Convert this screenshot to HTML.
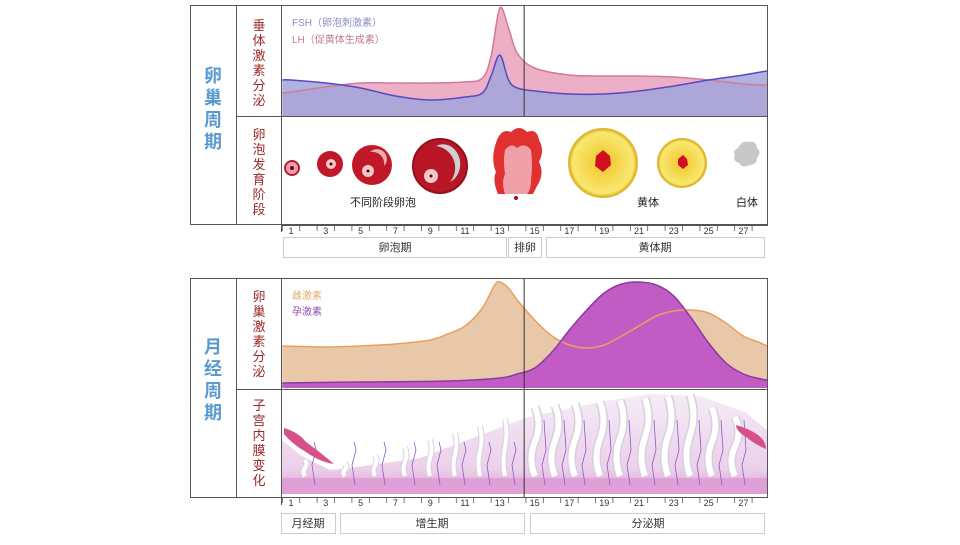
<!DOCTYPE html>
<html><head><meta charset="utf-8">
<style>
html,body{margin:0;padding:0;background:#fff;}
body{width:960px;height:540px;overflow:hidden;font-family:"Liberation Sans","Noto Sans CJK SC",sans-serif;}
svg text{font-family:"Liberation Sans","Noto Sans CJK SC",sans-serif;}
</style></head><body>
<svg id="c" width="960" height="540" viewBox="0 0 960 540" xmlns="http://www.w3.org/2000/svg">
<defs>
<linearGradient id="endo" x1="0" y1="0" x2="0" y2="1">
<stop offset="0" stop-color="#f4ecf6"/><stop offset="0.75" stop-color="#ecd0ea"/><stop offset="1" stop-color="#dc9ad4"/>
</linearGradient>
<radialGradient id="yel" cx="0.5" cy="0.5" r="0.5">
<stop offset="0.3" stop-color="#f5d040"/><stop offset="0.9" stop-color="#f8e870"/><stop offset="1" stop-color="#e0b020"/>
</radialGradient>
</defs>
<g id="charts"></g>
<g fill="none" stroke="#555" stroke-width="1">
<rect x="190.5" y="5.5" width="577" height="219"/>
<line x1="236.5" y1="5" x2="236.5" y2="225"/>
<line x1="281.5" y1="5" x2="281.5" y2="232"/>
<line x1="236" y1="116.5" x2="768" y2="116.5"/>
</g>
<g fill="none" stroke="#555" stroke-width="1">
<rect x="190.5" y="278.5" width="577" height="219"/>
<line x1="236.5" y1="278" x2="236.5" y2="498"/>
<line x1="281.5" y1="278" x2="281.5" y2="505"/>
<line x1="236" y1="389.5" x2="768" y2="389.5"/>
</g>
<text fill="#5a9ad0" font-size="18" font-weight="bold" text-anchor="middle">
<tspan x="213" y="82">卵</tspan><tspan x="213" y="104">巢</tspan><tspan x="213" y="126">周</tspan><tspan x="213" y="148">期</tspan></text>
<text fill="#5a9ad0" font-size="18" font-weight="bold" text-anchor="middle">
<tspan x="213" y="353">月</tspan><tspan x="213" y="375">经</tspan><tspan x="213" y="397">周</tspan><tspan x="213" y="419">期</tspan></text>
<text fill="#9a2a2a" font-size="13" text-anchor="middle">
<tspan x="259" y="30">垂</tspan><tspan x="259" y="45">体</tspan><tspan x="259" y="60">激</tspan><tspan x="259" y="75">素</tspan><tspan x="259" y="90">分</tspan><tspan x="259" y="105">泌</tspan></text>
<text fill="#9a2a2a" font-size="13" text-anchor="middle">
<tspan x="259" y="139">卵</tspan><tspan x="259" y="154">泡</tspan><tspan x="259" y="169">发</tspan><tspan x="259" y="184">育</tspan><tspan x="259" y="199">阶</tspan><tspan x="259" y="214">段</tspan></text>
<text fill="#9a2a2a" font-size="13" text-anchor="middle">
<tspan x="259" y="301">卵</tspan><tspan x="259" y="316">巢</tspan><tspan x="259" y="331">激</tspan><tspan x="259" y="346">素</tspan><tspan x="259" y="361">分</tspan><tspan x="259" y="376">泌</tspan></text>
<text fill="#9a2a2a" font-size="13" text-anchor="middle">
<tspan x="259" y="410">子</tspan><tspan x="259" y="425">宫</tspan><tspan x="259" y="440">内</tspan><tspan x="259" y="455">膜</tspan><tspan x="259" y="470">变</tspan><tspan x="259" y="485">化</tspan></text>
<text x="292" y="26" font-size="10" fill="#8a8ac8">FSH（卵泡刺激素）</text>
<text x="292" y="43" font-size="10" fill="#c07890">LH（促黄体生成素）</text>
<text x="292" y="299" font-size="10" fill="#e0b070">雌激素</text>
<text x="292" y="315" font-size="10" fill="#9050b0">孕激素</text>
<g>
<circle cx="292" cy="168" r="7" fill="#e8a0b0" stroke="#b02030" stroke-width="2"/><circle cx="292" cy="168" r="2" fill="#700"/>
<circle cx="330" cy="164" r="13" fill="#c01828"/><circle cx="331" cy="164" r="5" fill="#f5c8c8"/><circle cx="331" cy="164" r="1.5" fill="#600"/>
<circle cx="372" cy="165" r="20" fill="#c01828"/><path d="M370 152 a12 12 0 0 1 14 14 a8 8 0 0 0 -14 -14z" fill="#eab0b0"/><circle cx="368" cy="171" r="6" fill="#f5c8c8"/><circle cx="368" cy="171" r="1.5" fill="#600"/>
<circle cx="440" cy="166" r="27" fill="#b81525" stroke="#901020" stroke-width="2"/><path d="M436 146 a22 22 0 0 1 14 36 a14 16 0 0 0 -14 -36z" fill="#cfcfcf"/><circle cx="431" cy="176" r="7" fill="#f5c8c8"/><circle cx="431" cy="176" r="1.5" fill="#600"/>
<path d="M497 140 q5 -12 14 -8 q8 -8 16 0 q10 -4 12 8 q6 10 0 22 q6 12 -2 24 l-4 8 l-35 0 q-6 -14 -2 -22 q-6 -14 1 -32z" fill="#e03030"/>
<path d="M505 150 q6 -8 12 -2 q8 -6 14 2 q2 14 0 30 q0 10 -4 14 l-22 0 q-4 -12 0 -20 q-2 -14 0 -24z" fill="#f0a0a8"/>
<circle cx="516" cy="198" r="2" fill="#a01030"/>
<circle cx="603" cy="163" r="34" fill="url(#yel)" stroke="#e0b830" stroke-width="2"/>
<path d="M596 156 l7 -6 l7 6 l1 9 l-8 7 l-8 -6z" fill="#d01020"/>
<circle cx="682" cy="163" r="24" fill="url(#yel)" stroke="#e0b830" stroke-width="2"/>
<path d="M678 159 l5 -4 l4 4 l1 6 l-5 4 l-5 -4z" fill="#d01020"/>
<path d="M738 148 q4 -8 10 -6 q8 -2 9 6 q5 4 0 10 q0 7 -8 7 q-6 4 -10 -2 q-7 -2 -4 -8 q-3 -4 3 -7z" fill="#c8c8c8"/>
</g>
<text x="350" y="206" font-size="11" fill="#222">不同阶段卵泡</text>
<text x="637" y="206" font-size="11" fill="#222">黄体</text>
<text x="736" y="206" font-size="11" fill="#222">白体</text>
<g font-size="11" fill="#333" text-anchor="middle">
<rect x="283.5" y="237.5" width="223" height="20" fill="#fff" stroke="#ccc"/><text x="395" y="251">卵泡期</text>
<rect x="508.5" y="237.5" width="33" height="20" fill="#fff" stroke="#ccc"/><text x="525" y="251">排卵</text>
<rect x="546.5" y="237.5" width="218" height="20" fill="#fff" stroke="#ccc"/><text x="655" y="251">黄体期</text>
<rect x="281.5" y="513.5" width="54" height="20" fill="#fff" stroke="#ccc"/><text x="308" y="527">月经期</text>
<rect x="340.5" y="513.5" width="184" height="20" fill="#fff" stroke="#ccc"/><text x="432" y="527">增生期</text>
<rect x="530.5" y="513.5" width="234" height="20" fill="#fff" stroke="#ccc"/><text x="648" y="527">分泌期</text>
</g>
</svg>
<script>
const fshDays = [0.5,1,3,5,7,9,11,12,12.5,13,13.5,14,15,17,19,21,23,25,27,28,28.5];
const fshVals = [36,36,33,28,20,16,19,23,40,61,36,28,25,22,22,25,30,36,41,44,45];
const lhDays  = [0.5,1,3,5,7,9,11,12,12.5,13,13.5,14,15,17,19,21,23,25,27,28,28.5];
const lhVals  = [23,24,29,33,33,33,34,38,60,108,88,63,48,41,40,40,39,36,32,31,31];
const e2Days  = [0.5,3,5,7,9,10,11,12,12.7,13,13.5,14,15,16,17,18,19,20,21,22,23,24,25,26,27,28,28.5];
const e2Vals  = [42,41,42,44,48,54,62,80,103,106,100,88,68,52,43,40,43,52,62,72,77,78,75,65,52,45,42];
const p4Days  = [0.5,5,10,13,14,15,16,17,18,19,20,21,22,23,24,25,26,27,28,28.5];
const p4Vals  = [5,6,7,10,14,20,36,58,78,95,104,106,103,92,70,45,25,14,9,8];
const tickDays = [1,3,5,7,9,11,13,15,17,19,21,23,25,27];
const tickLabels = ["1","3","5","7","9","11","13","15","17","19","21","23","25","27"];
const ovulationDay = 14.4;

const NS="http://www.w3.org/2000/svg";
const G=document.getElementById('charts');
const xS=d=>291+(d-1)*17.4;
function yS(base,v){return base-v;}
function mk(t,a){const e=document.createElementNS(NS,t);for(const k in a)e.setAttribute(k,a[k]);G.appendChild(e);return e;}
function smooth(pts){
  let d='M'+pts[0][0]+' '+pts[0][1];
  for(let i=0;i<pts.length-1;i++){
    const p0=pts[Math.max(0,i-1)],p1=pts[i],p2=pts[i+1],p3=pts[Math.min(pts.length-1,i+2)];
    const c1x=p1[0]+(p2[0]-p0[0])/6,c1y=p1[1]+(p2[1]-p0[1])/6;
    const c2x=p2[0]-(p3[0]-p1[0])/6,c2y=p2[1]-(p3[1]-p1[1])/6;
    d+=' C'+c1x.toFixed(1)+' '+c1y.toFixed(1)+' '+c2x.toFixed(1)+' '+c2y.toFixed(1)+' '+p2[0].toFixed(1)+' '+p2[1].toFixed(1);
  }
  return d;
}
function series(days,vals,base){return days.map((d,i)=>[Math.min(767,Math.max(282,xS(d))),yS(base,vals[i])]);}
function area(days,vals,base,fill,op){
  const p=series(days,vals,base);
  return mk('path',{d:smooth(p)+' L'+p[p.length-1][0]+' '+base+' L'+p[0][0]+' '+base+' Z',fill:fill,'fill-opacity':op});
}
function line(days,vals,base,col,w){return mk('path',{d:smooth(series(days,vals,base)),fill:'none',stroke:col,'stroke-width':w});}

let e;
e=area(lhDays,lhVals,116,'#eaa6c0',0.9);


e=area(fshDays,fshVals,116,'#a2a4dc',0.85);


e=line(lhDays,lhVals,116,'#d27a98',1.5);


e=line(fshDays,fshVals,116,'#5a48c0',1.5);



e=area(e2Days,e2Vals,388,'#e8c8a8',1);


e=area(p4Days,p4Vals,388,'#c05cc4',1);


e=line(e2Days,e2Vals,388,'#e8a060',1.5);


e=line(p4Days,p4Vals,388,'#8a3aa0',1.5);



e=mk('path',{d:'M282 440 L300 455 L330 470 L350 468 L420 458 L525 418 L600 402 L650 394 L700 396 L745 412 L767 430 L767 494 L282 494 Z',fill:'url(#endo)'});


e=mk('rect',{x:282,y:478,width:485,height:16,fill:'#dfa0d8'});


const glandX=[305,345,375,405,430,455,480,505,535,555,575,600,620,645,668,690,712,735];
glandX.forEach(gx=>{
  let top;
  if(gx < 330) top=462;
  else if(gx < 525) top=470-(gx-330)*0.28;
  else if(gx < 700) top=410-(gx-525)*0.08;
  else top=405+(gx-700)*0.4;
  top-=2;
  const L=476-top;
  const w=gx>525?7:3;
  const dd='M'+gx+' '+top+' q'+w+' '+(L/4).toFixed(1)+' 0 '+(L/2).toFixed(1)+' q-'+w+' '+(L/4).toFixed(1)+' 0 '+(L/2).toFixed(1);
  const o=mk('path',{d:dd,fill:'none',stroke:'#d6d0dc','stroke-width':gx>525?9:6});
  
  
  const p=mk('path',{d:dd,fill:'none',stroke:'#fff','stroke-width':gx>525?6:4});
  
  
  const v=mk('path',{d:'M'+(gx+10)+' 485 l-3 -20 l4 -15 l-2 -'+(gx>525?30:8),fill:'none',stroke:'#8a5ac8','stroke-width':0.8});
  
  
});
e=mk('path',{d:'M284 428 q14 4 22 14 q14 10 28 22 q-14 -2 -28 -12 q-14 -8 -22 -18z',fill:'#d8508a'});


e=mk('path',{d:'M736 425 q14 4 22 10 q8 6 8 14 q-10 -4 -20 -12 q-10 -6 -10 -12z',fill:'#d8508a'});



e=mk('line',{x1:xS(ovulationDay),y1:6,x2:xS(ovulationDay),y2:116,stroke:'#333','stroke-width':1});


e=mk('line',{x1:xS(ovulationDay),y1:279,x2:xS(ovulationDay),y2:497,stroke:'#333','stroke-width':1});



[[225,'top'],[497,'bottom']].forEach(function(pair){
  const y0=pair[0],nm=pair[1];
  for(let d=1;d<=28;d++){
    const t=mk('line',{x1:xS(d)-8.7,y1:y0,x2:xS(d)-8.7,y2:y0+6,stroke:'#555','stroke-width':0.8});
    
    
  }
  tickDays.forEach(function(d,i){
    const t=mk('text',{x:xS(d),y:y0+9,'font-size':9,fill:'#333','text-anchor':'middle'});
    t.textContent=tickLabels[i];
    
    
  });
  const a=mk('line',{x1:281,y1:y0+0.5,x2:768,y2:y0+0.5,stroke:'#555','stroke-width':1});
  
  
});
</script>
</body></html>
